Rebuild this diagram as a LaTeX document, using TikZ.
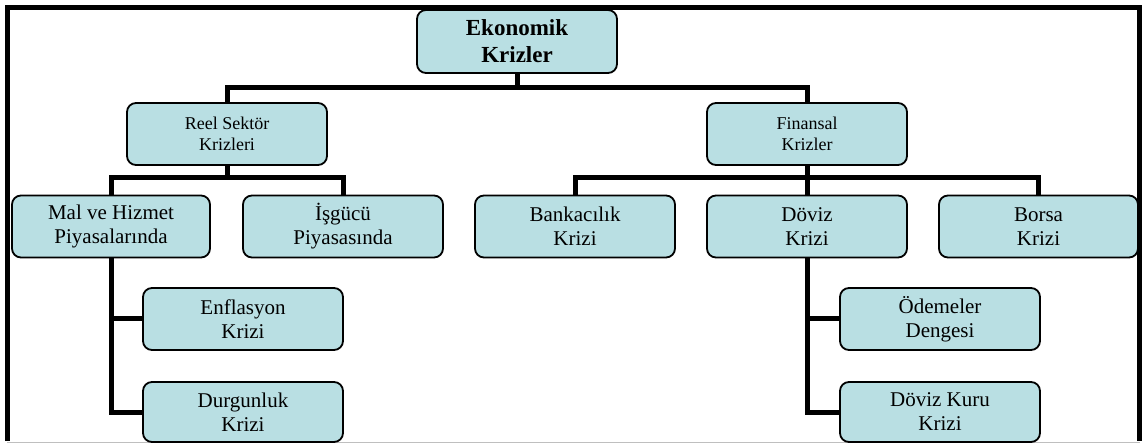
\documentclass[tikz,border=0pt]{standalone}
\usepackage{fontspec}
\setmainfont{Liberation Serif}
\usepackage{xcolor}
\usetikzlibrary{positioning}
\definecolor{boxblue}{HTML}{B9DFE3}

\begin{document}
\begin{tikzpicture}[x=1pt, y=-1pt,
   box/.style={draw, line width=1.8pt, rounded corners=9pt, fill=boxblue, align=center,
               minimum width=200pt, minimum height=62pt, inner sep=2pt},
   rootbox/.style={box, minimum height=63pt, font=\fontsize{23}{27}\selectfont\bfseries},
   midbox/.style={box, font=\fontsize{18}{21}\selectfont},
   leafbox/.style={box, font=\fontsize{21}{24}\selectfont},
   conn/.style={line width=5pt}]

   \useasboundingbox (0,0) rectangle (1145,443);
   % frame
   \draw[line width=5pt] (7.5,441) -- (7.5,7.5) -- (1139.5,7.5) -- (1139.5,441);
   \draw[black!25, line width=1pt] (7,442) -- (1140,442);

   % bus heights
   \coordinate (bus_top) at (0,88);
   \coordinate (bus_mid) at (0,178);

   % Define the boxes
   \node[rootbox] (root) at (517,41.5) {Ekonomik\\Krizler};

   \node[midbox] (reel) at (227,134) {Reel Sektör\\Krizleri};
   \node[midbox] (finans) at (807,134) {Finansal\\Krizler};

   \node[leafbox, minimum width=198pt] (mal) at (111,226.5) {Mal ve Hizmet\\Piyasalarında};
   \node[leafbox] (isgucu) at (343,226.5) {İşgücü\\Piyasasında};
   \node[leafbox] (banka) at (575,226.5) {Bankacılık\\Krizi};
   \node[leafbox] (doviz) at (807,226.5) {Döviz\\Krizi};
   \node[leafbox, minimum width=199pt] (borsa) at (1038.5,226.5) {Borsa\\Krizi};

   \node[leafbox] (enflasyon) at (243,319) {Enflasyon\\Krizi};
   \node[leafbox, minimum height=60pt] (durgunluk) at (243,412) {Durgunluk\\Krizi};
   \node[leafbox] (odemeler) at (940,319) {Ödemeler\\Dengesi};
   \node[leafbox, minimum height=60pt] (kur) at (940,412) {Döviz Kuru\\Krizi};

   % Define connectors
   \draw[conn] (root.south) -- (root.south |- bus_top);
   \draw[conn] (reel.north) -- (reel.north |- bus_top) -| (finans.north);

   \draw[conn] (reel.south) -- (reel.south |- bus_mid);
   \draw[conn] (mal.north) -- (mal.north |- bus_mid) -| (isgucu.north);
   \draw[conn] (finans.south) -- (finans.south |- bus_mid);
   \draw[conn] (banka.north) -- (banka.north |- bus_mid) -| (borsa.north);
   \draw[conn] (doviz.north) -- (doviz.north |- bus_mid);

   \draw[conn] (mal.south) |- (enflasyon.west);
   \draw[conn] (mal.south) |- (durgunluk.west);
   \draw[conn] (doviz.south) |- (odemeler.west);
   \draw[conn] (doviz.south) |- (kur.west);

\end{tikzpicture}
\end{document}
